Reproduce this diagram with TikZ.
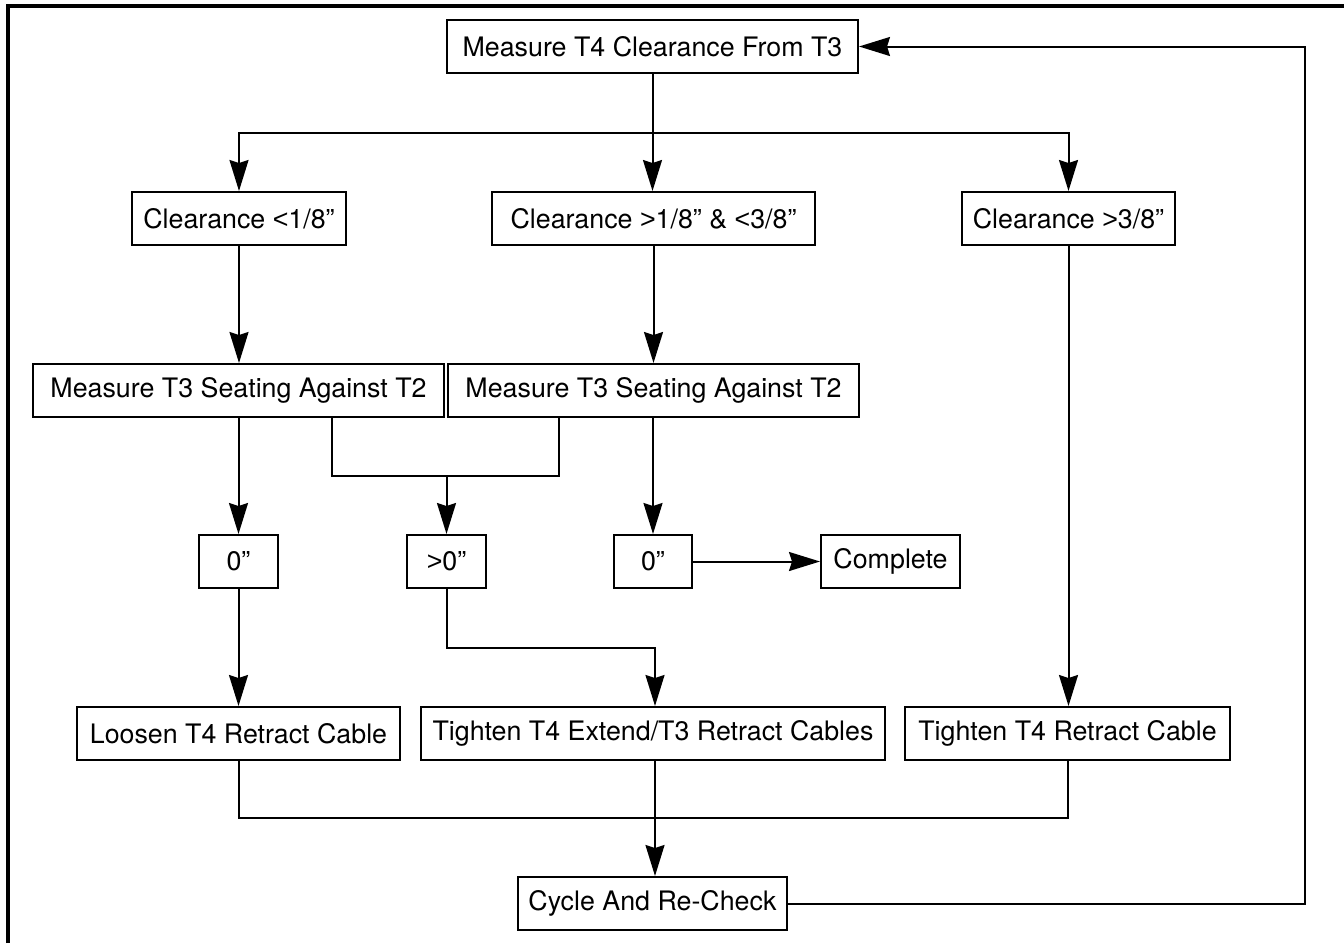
\documentclass[tikz,border=0pt]{standalone}
\usepackage{fontspec}
\setmainfont{TeX Gyre Heros}
\newfontfamily\symfont{Liberation Sans}
\newcommand{\lessthan}{{\symfont <}}
\newcommand{\morethan}{{\symfont >}}
\usetikzlibrary{arrows.meta}
\begin{document}
\begin{tikzpicture}[x=1pt,y=-1pt,
  box/.style={draw,line width=2pt,minimum height=53pt,inner sep=0pt,
    font=\fontsize{26.8}{30}\selectfont},
  conn/.style={line width=2pt,line join=miter},
  arr/.style={conn,-{Stealth[length=31pt,width=19pt,inset=3pt]}}]
\useasboundingbox (0,0) rectangle (1344,943);
\draw[line width=3.2pt] (8,943) -- (8,6) -- (1344,6);
% nodes
\node[box,minimum width=411pt] (top) at (652.5,46.5) {Measure T4 Clearance From T3};
\node[box,minimum width=214pt] (c1) at (239,218.5) {Clearance \lessthan1/8”};
\node[box,minimum width=323pt] (c2) at (653.5,218.5) {Clearance \morethan1/8” \& \lessthan3/8”};
\node[box,minimum width=213pt] (c3) at (1068.5,218.5) {Clearance \morethan3/8”};
\node[box,minimum width=411pt] (m1) at (238.5,390.5) {Measure T3 Seating Against T2};
\node[box,minimum width=411pt] (m2) at (653.5,390.5) {Measure T3 Seating Against T2};
\node[box,minimum width=79pt] (z1) at (238.5,561.5) {0”};
\node[box,minimum width=79pt] (g1) at (446.5,561.5) {\morethan0”};
\node[box,minimum width=78pt] (z2) at (653,561.5) {0”};
\node[box,minimum width=139pt] (comp) at (890.5,561.5) {Complete};
\node[box,minimum width=323pt] (loosen) at (238.5,733.5) {Loosen T4 Retract Cable};
\node[box,minimum width=464pt] (tmid) at (653,733.5) {Tighten T4 Extend/T3 Retract Cables};
\node[box,minimum width=325pt] (tright) at (1067.5,733.5) {Tighten T4 Retract Cable};
\node[box,minimum width=269pt] (cyc) at (652.5,903.5) {Cycle And Re-Check};
% coordinates
\coordinate (bar) at (0,133);
\coordinate (j1) at (446.5,476);
\coordinate (j2) at (0,648);
\coordinate (bb) at (0,818);
\coordinate (rb) at (1305,903.5);
\coordinate (rt) at (1305,46.5);
% connectors
\draw[arr] (top.south) -- (top.south |- c2.north);
\draw[arr] (top.south |- bar) -| (c1.north);
\draw[arr] (top.south |- bar) -| (c3.north);
\draw[arr] (c1.south) -- (c1.south |- m1.north);
\draw[arr] (c2.south) -- (m2.north);
\draw[conn] ([xshift=93.5pt]m1.south) |- (j1) -| ([xshift=-94.5pt]m2.south);
\draw[arr] (j1) -- (g1.north);
\draw[arr] (m1.south) -- (z1.north);
\draw[arr] (m2.south -| z2.north) -- (z2.north);
\draw[arr] (z2.east) -- (comp.west);
\draw[arr] (z1.south) -- (loosen.north);
\draw[arr] (g1.south) |- ([xshift=2pt]tmid.north |- j2) -- ([xshift=2pt]tmid.north);
\draw[arr] (c3.south) -- (c3.south |- tright.north);
\draw[conn] (loosen.south) |- (tright.south |- bb) -- (tright.south);
\draw[arr] ([xshift=2pt]tmid.south) -- ([xshift=2pt]tmid.south |- cyc.north);
\draw[arr] (cyc.east) -- (rb) -- (rt) -- (top.east);
\end{tikzpicture}
\end{document}
